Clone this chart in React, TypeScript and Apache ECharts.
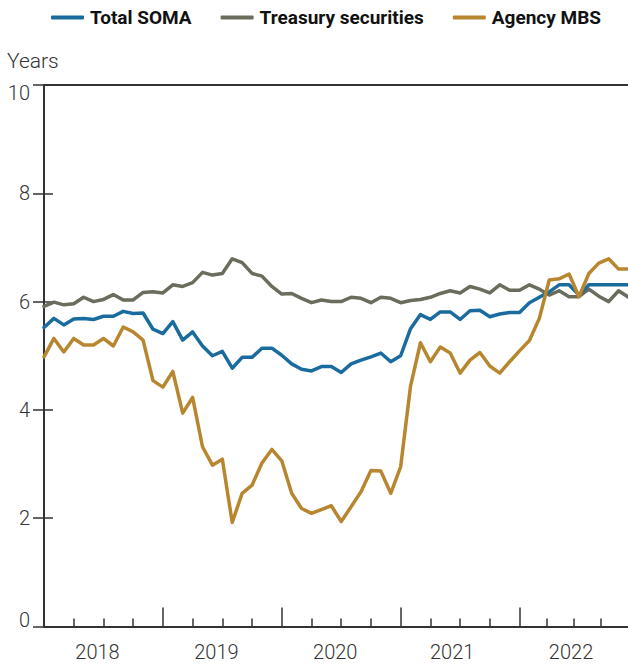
import React, { useEffect, useRef } from "react";
import * as echarts from "echarts";

const startYear = 2018;
const seriesNames = ["Total SOMA", "Treasury securities", "Agency MBS"];
const yearLabels = ["2018", "2019", "2020", "2021", "2022"];
const yTicks = [0, 2, 4, 6, 8, 10];

// Monthly values, Jan 2018 onward (index = months since Jan 2018)
const totalSoma = [
  5.52, 5.69, 5.57, 5.68, 5.69, 5.67, 5.73, 5.73, 5.82, 5.78, 5.79, 5.49,
  5.41, 5.63, 5.29, 5.44, 5.18, 5.0, 5.08, 4.77, 4.97, 4.97, 5.14, 5.14,
  5.01, 4.85, 4.75, 4.72, 4.8, 4.8, 4.69, 4.85, 4.92, 4.98, 5.05, 4.89,
  5.0, 5.5, 5.76, 5.67, 5.81, 5.81, 5.67, 5.83, 5.84, 5.72, 5.77, 5.8,
  5.8, 5.98, 6.08, 6.18, 6.31, 6.31, 6.12, 6.31, 6.31, 6.31, 6.31, 6.31,
];
const treasury = [
  5.91, 5.99, 5.94, 5.96, 6.08, 6.0, 6.04, 6.13, 6.03, 6.03, 6.17, 6.18,
  6.16, 6.31, 6.28, 6.35, 6.54, 6.49, 6.52, 6.79, 6.72, 6.52, 6.47, 6.28,
  6.14, 6.15, 6.06, 5.98, 6.03, 6.0, 6.0, 6.08, 6.06, 5.98, 6.08, 6.06,
  5.98, 6.02, 6.04, 6.08, 6.15, 6.2, 6.16, 6.28, 6.23, 6.16, 6.31, 6.21,
  6.21, 6.31, 6.23, 6.12, 6.2, 6.09, 6.09, 6.23, 6.1, 6.0, 6.2, 6.08,
];
const agencyMbs = [
  4.98, 5.32, 5.07, 5.32, 5.2, 5.2, 5.32, 5.18, 5.53, 5.44, 5.29, 4.54,
  4.42, 4.71, 3.94, 4.23, 3.32, 2.98, 3.09, 1.92, 2.46, 2.61, 3.02, 3.27,
  3.06, 2.46, 2.18, 2.09, 2.16, 2.23, 1.94, 2.21, 2.49, 2.88, 2.87, 2.46,
  2.95, 4.44, 5.24, 4.89, 5.16, 5.05, 4.68, 4.92, 5.06, 4.81, 4.68, 4.89,
  5.09, 5.28, 5.69, 6.4, 6.42, 6.51, 6.09, 6.52, 6.71, 6.79, 6.6, 6.6,
];

// tick positions in months since Jan 2018
const majorTicks = [12, 24, 36, 48];
const minorTicks = [3, 6, 9, 15, 18, 21, 27, 30, 33, 39, 42, 45, 50.7, 53.5, 56.2];
const labelPos = [5.4, 17.4, 29.4, 41.2, 53.2];

const colors = { soma: "#1a6c9e", tsy: "#6a6c5c", mbs: "#b8862f" };
const axisColor = "#333333";
const font = "Roboto";

const toPairs = (arr: number[]) => arr.map((v, i) => [i, v]);

export default function App() {
  const ref = useRef<HTMLDivElement>(null);
  useEffect(() => {
    if (!ref.current) return;
    const chart = echarts.init(ref.current, undefined, { renderer: "svg" });
    const xMax = 58.95;
    const baseX = {
      type: "value",
      min: 0,
      max: xMax,
      gridIndex: 0,
      splitLine: { show: false },
    };
    chart.setOption({
      animation: false,
      backgroundColor: "#ffffff",
      title: {
        text: "Years",
        left: 7,
        top: 50,
        padding: 0,
        textStyle: { fontFamily: font, fontSize: 21, fontWeight: 300, color: axisColor },
      },
      legend: {
        left: 46,
        top: 3,
        itemWidth: 33,
        itemHeight: 4,
        itemGap: 29,
        icon: "roundRect",
        data: seriesNames,
        textStyle: {
          fontFamily: font,
          fontSize: 19,
          fontWeight: "bold",
          color: "#111111",
          padding: [0, 0, 0, 1],
        },
      },
      grid: { left: 44, right: -2, top: 85, bottom: 40.5, containLabel: false },
      xAxis: [
        {
          ...baseX,
          position: "bottom",
          axisLine: { show: true, lineStyle: { color: axisColor, width: 2 } },
          axisTick: {
            show: true,
            inside: true,
            length: 8,
            customValues: minorTicks,
            lineStyle: { color: axisColor, width: 1.5 },
          },
          axisLabel: {
            show: true,
            customValues: labelPos,
            margin: 15,
            formatter: (v: number) => yearLabels[Math.floor(v / 12)] ?? String(startYear + Math.floor(v / 12)),
            fontFamily: font,
            fontSize: 20,
            fontWeight: 300,
            color: axisColor,
          },
        },
        {
          ...baseX,
          position: "bottom",
          axisLine: { show: false },
          axisTick: {
            show: true,
            inside: true,
            length: 19,
            customValues: majorTicks,
            lineStyle: { color: axisColor, width: 1.5 },
          },
          axisLabel: { show: false },
        },
        {
          ...baseX,
          position: "top",
          axisLine: { show: true, lineStyle: { color: axisColor, width: 2 } },
          axisTick: { show: false },
          axisLabel: { show: false },
        },
      ],
      yAxis: [
        {
          type: "value",
          min: yTicks[0],
          max: yTicks[yTicks.length - 1],
          interval: 2,
          position: "left",
          splitLine: { show: false },
          axisLine: { show: true, lineStyle: { color: axisColor, width: 2 } },
          axisTick: { show: true, inside: true, length: 9, lineStyle: { color: axisColor, width: 1.5 } },
          axisLabel: {
            margin: 14,
            fontFamily: font,
            fontSize: 20,
            fontWeight: 300,
            color: axisColor,
            formatter: (v: number) =>
              v === 10 ? `{top|${v}}` : v === 0 ? `{bot|${v}}` : `${v}`,
            rich: {
              top: { padding: [16, 0, 0, 0], fontFamily: font, fontSize: 20, fontWeight: 300, color: axisColor },
              bot: { padding: [0, 0, 14, 0], fontFamily: font, fontSize: 20, fontWeight: 300, color: axisColor },
            },
          },
        },
        {
          type: "value",
          min: yTicks[0],
          max: yTicks[yTicks.length - 1],
          interval: 2,
          position: "right",
          splitLine: { show: false },
          axisLine: { show: true, lineStyle: { color: axisColor, width: 2 } },
          axisTick: { show: true, inside: true, length: 11, lineStyle: { color: axisColor, width: 1.5 } },
          axisLabel: { show: false },
        },
      ],
      series: [
        {
          name: seriesNames[1],
          type: "line",
          xAxisIndex: 0,
          yAxisIndex: 0,
          data: toPairs(treasury),
          symbol: "none",
          clip: true,
          color: colors.tsy,
          lineStyle: { width: 3.5, color: colors.tsy, join: "round", cap: "round" },
        },
        {
          name: seriesNames[0],
          type: "line",
          xAxisIndex: 0,
          yAxisIndex: 0,
          data: toPairs(totalSoma),
          symbol: "none",
          clip: true,
          color: colors.soma,
          lineStyle: { width: 3.5, color: colors.soma, join: "round", cap: "round" },
        },
        {
          name: seriesNames[2],
          type: "line",
          xAxisIndex: 0,
          yAxisIndex: 0,
          data: toPairs(agencyMbs),
          symbol: "none",
          clip: true,
          color: colors.mbs,
          lineStyle: { width: 3.5, color: colors.mbs, join: "round", cap: "round" },
        },
      ],
    });
    return () => chart.dispose();
  }, []);
  return (
    <div
      ref={ref}
      style={{ position: "fixed", left: 0, top: 0, width: 628, height: 667, background: "#fff" }}
    />
  );
}
